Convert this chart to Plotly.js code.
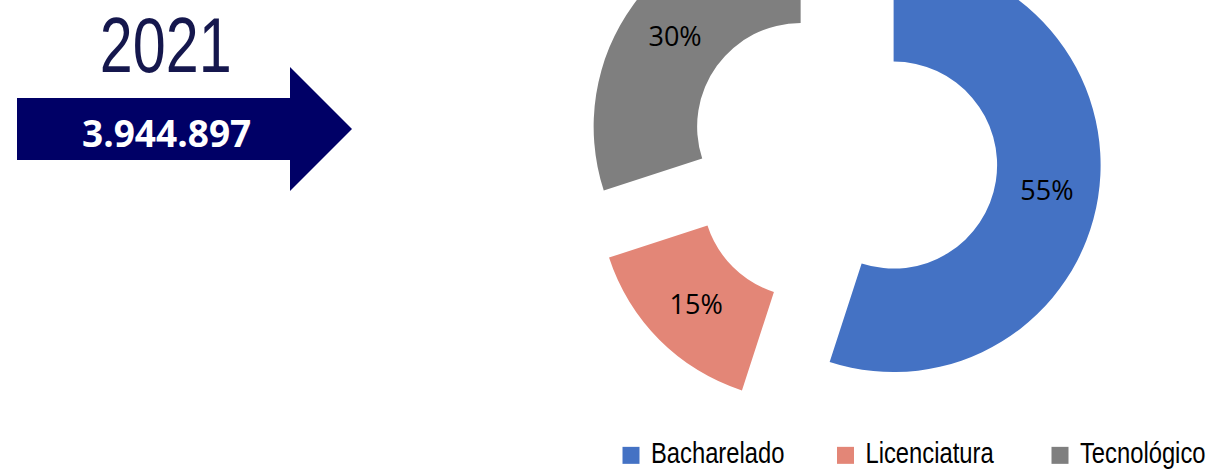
<!DOCTYPE html>
<html>
<head>
<meta charset="utf-8">
<script src="https://cdn.plot.ly/plotly-3.0.1.min.js"></script>
<style>
html,body{margin:0;padding:0;overflow:hidden;background:#ffffff;width:1217px;height:470px;}
#chart{position:absolute;left:0;top:-200px;width:1300px;height:760px;}
</style>
</head>
<body>
<div id="chart"></div>
<script>
// ---- data ----
const labels = ['Bacharelado', 'Licenciatura', 'Tecnológico'];
const values = [55, 15, 30];
const colors = ['#4472C4', '#E38677', '#7F7F7F'];
const yearLabel = '2021';
const totalLabel = '3.944.897';

// ---- page geometry helpers (div is 1300x760, shifted up by 200px) ----
const W = 1300, H = 760, OFFY = 200;
const px = x => x / W;
const py = y => 1 - (y + OFFY) / H;

// pie box: centre (842.5,157), outer radius 207, pull 0.25 -> box 517.5
const cx = 842.5, cy = 157, box = 517.5;
const domX = [px(cx - box / 2), px(cx + box / 2)];
const domY = [py(cy + box / 2), py(cy - box / 2)];

const arrowPts = [[17,98],[290,98],[290,67],[352,129],[290,191],[290,160],[17,160]];
const arrowPath = 'M' + arrowPts.map(p => px(p[0]) + ',' + py(p[1])).join(' L') + ' Z';

const narrow = '"Liberation Sans", Arial, sans-serif';

const trace = {
  type: 'pie',
  labels: labels,
  values: values,
  marker: {colors: colors, line: {width: 0}},
  hole: 0.5,
  pull: [0.25, 0.25, 0.25],
  sort: false,
  direction: 'clockwise',
  rotation: 0,
  textinfo: 'percent',
  texttemplate: '%{percent:.0%}',
  textposition: 'inside',
  insidetextorientation: 'horizontal',
  textfont: {family: 'Open Sans, sans-serif', size: 27, color: '#000000'},
  domain: {x: domX, y: domY},
  hoverinfo: 'label+percent'
};

const layout = {
  width: W, height: H,
  margin: {l: 0, r: 0, t: 0, b: 0, pad: 0},
  paper_bgcolor: '#ffffff',
  plot_bgcolor: '#ffffff',
  showlegend: true,
  legend: {
    orientation: 'h',
    x: px(611), xanchor: 'left',
    y: py(455.5), yanchor: 'middle',
    bgcolor: 'rgba(0,0,0,0)',
    borderwidth: 0,
    entrywidth: 169.5,
    entrywidthmode: 'pixels',
    traceorder: 'normal',
    font: {family: narrow, size: 29, color: '#000000'}
  },
  shapes: [
    {type: 'path', xref: 'paper', yref: 'paper', path: arrowPath,
     fillcolor: '#000066', line: {width: 0}, layer: 'below'}
  ],
  annotations: [
    {text: yearLabel, xref: 'paper', yref: 'paper', x: px(166), y: py(45),
     xanchor: 'center', yanchor: 'middle', showarrow: false,
     font: {family: narrow, size: 78, color: '#15174D'}},
    {text: '<b>' + totalLabel + '</b>', xref: 'paper', yref: 'paper', x: px(166.5), y: py(132),
     xanchor: 'center', yanchor: 'middle', showarrow: false,
     font: {family: 'Open Sans, sans-serif', size: 37, color: '#ffffff'}}
  ]
};

Plotly.newPlot('chart', [trace], layout, {displayModeBar: false, staticPlot: true}).then(function () {
  // larger legend swatches
  document.querySelectorAll('path.legendpie').forEach(function (p) {
    p.setAttribute('d', 'M8.5,8.5H-8.5V-8.5H8.5Z');
  });
  // narrow (condensed) look for legend text and the year
  document.querySelectorAll('text.legendtext').forEach(function (t) {
    t.style.transformBox = 'fill-box';
    t.style.transformOrigin = '0% 50%';
    t.style.transform = 'translate(0px,-4px) scaleX(0.82)';
  });
  var ann = document.querySelectorAll('text.annotation-text');
  if (ann.length) {
    ann[0].style.transformBox = 'fill-box';
    ann[0].style.transformOrigin = '50% 50%';
    ann[0].style.transform = 'scaleX(0.76)';
  }
});
</script>
</body>
</html>
